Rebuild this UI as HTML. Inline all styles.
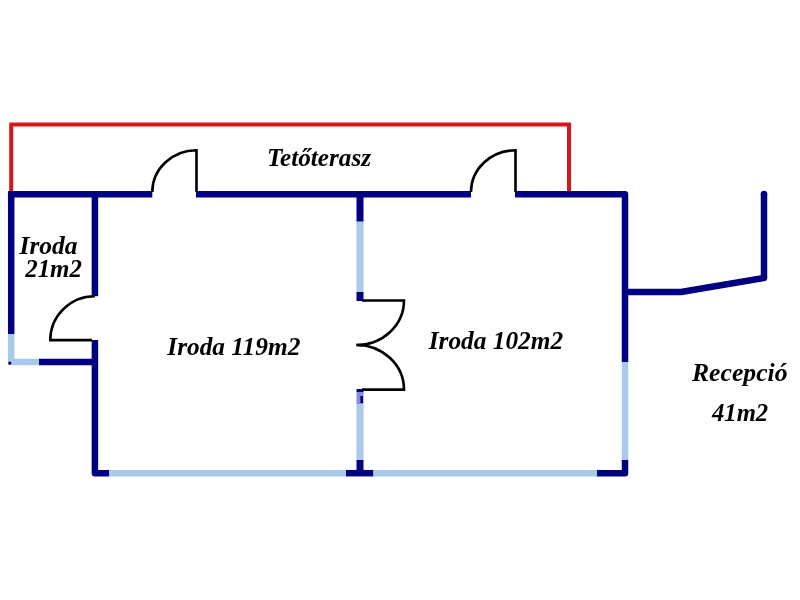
<!DOCTYPE html>
<html><head><meta charset="utf-8">
<style>
html,body{margin:0;padding:0;background:#fff;width:800px;height:600px;overflow:hidden}
svg{position:absolute;left:0;top:0;will-change:transform}
text{font-family:"Liberation Serif",serif;font-weight:bold;font-style:italic;fill:#000}
</style></head><body>
<svg width="800" height="600" viewBox="0 0 800 600">
<g fill="none" stroke-linejoin="miter" stroke-linecap="butt">
<path d="M11.2,192 L11.2,124.6 L569,124.6 L569,192" stroke="#d81818" stroke-width="4"/>
<g stroke="#000080" stroke-width="6.5">
<path d="M11.2,334 L11.2,194.3 L152.3,194.3"/>
<path d="M196,194.3 L471,194.3"/>
<path d="M515,194.3 L625,194.3 L625,362" stroke-linejoin="round"/>
<path d="M625,459.7 L625,473.2 L597,473.2" stroke-linejoin="round"/>
<path d="M373.5,473.2 L346,473.2"/>
<path d="M109,473.2 L94.9,473.2 L94.9,340" stroke-linejoin="round"/>
<path d="M94.9,296.2 L94.9,194.3"/>
<path d="M94.9,362 L39,362"/>
<path d="M625,292 L681,292 L764,278 L764,193.5" stroke-linejoin="round"/>
</g>
<g stroke="#000080" stroke-width="7">
<path d="M360,473 L360,459.7"/>
<path d="M360,194.3 L360,221.7"/>
<path d="M360,291.8 L360,301"/>
<path d="M360,389 L360,392"/>
</g>
<g stroke="#a8c9ec" stroke-width="6.5">
<path d="M625,362 L625,459.7"/>
<path d="M597,473.2 L373.5,473.2"/>
<path d="M346,473.2 L109,473.2"/>
<path d="M39,362 L11.2,362 L11.2,334"/>
</g>
<g stroke="#a8c9ec" stroke-width="7">
<path d="M360,221.7 L360,291.8"/>
<path d="M360,404 L360,459.7"/>
</g>
<path d="M360,392 L360,404" stroke="#8a8ad8" stroke-width="7"/>
<circle cx="764" cy="194" r="3.25" fill="#000080"/>
<circle cx="9.8" cy="363.1" r="1.6" fill="#000050"/>
<path d="M361.7,396 L361.7,403" stroke="#000090" stroke-width="2.6"/>
<g stroke="#000" stroke-width="2.6">
<path d="M152.3,192 A44.2,41.7 0 0 1 196.5,150.3 L196.5,192"/>
<path d="M471,192 A44.5,41.7 0 0 1 515.5,150.3 L515.5,192"/>
<path d="M94.9,296.3 A44.6,43.8 0 0 0 50.3,340.1 L92,340.1"/>
<path d="M362,300.5 L404,300.5 A47.5,44.5 0 0 1 356.5,345"/>
<path d="M362,389.6 L404,389.6 A47.5,44.6 0 0 0 356.5,345"/>
</g>
</g>
<text x="267" y="165.5" font-size="26" textLength="104" lengthAdjust="spacingAndGlyphs">Tetőterasz</text>
<text x="19.5" y="253.7" font-size="26" textLength="58" lengthAdjust="spacingAndGlyphs">Iroda</text>
<text x="25.2" y="276.6" font-size="26" textLength="56.8" lengthAdjust="spacingAndGlyphs">21m2</text>
<text x="167.3" y="354.6" font-size="26" textLength="133" lengthAdjust="spacingAndGlyphs">Iroda 119m2</text>
<text x="428.7" y="349" font-size="26" textLength="134.5" lengthAdjust="spacingAndGlyphs">Iroda 102m2</text>
<text x="692" y="380.6" font-size="26" textLength="95.5" lengthAdjust="spacingAndGlyphs">Recepció</text>
<text x="712" y="420.8" font-size="26" textLength="56.2" lengthAdjust="spacingAndGlyphs">41m2</text>
</svg>
</body></html>
